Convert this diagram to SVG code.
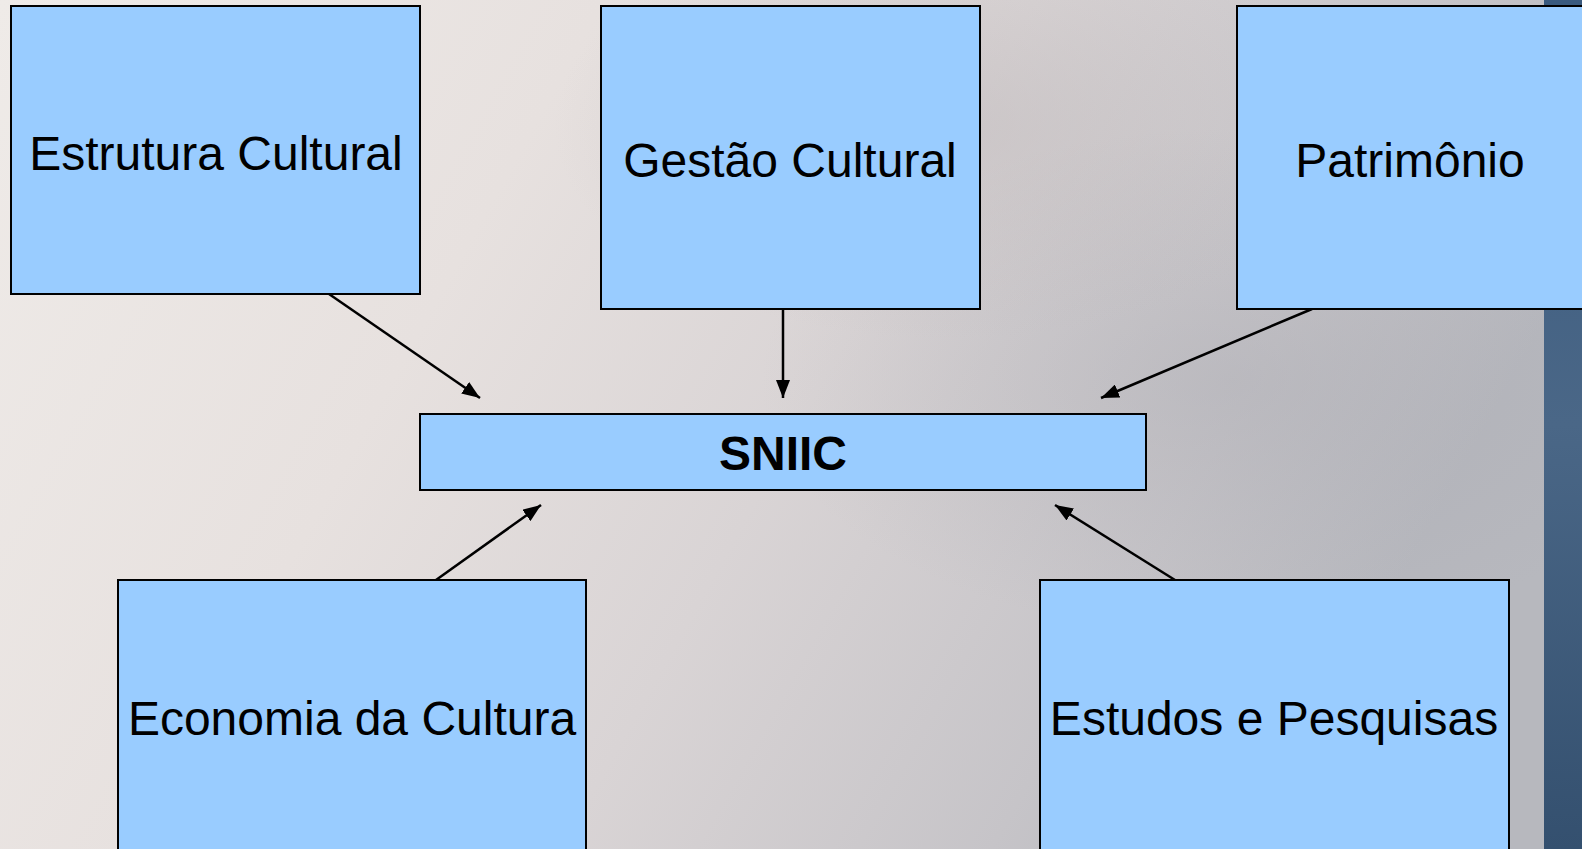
<svg xmlns="http://www.w3.org/2000/svg" width="1582" height="849" viewBox="0 0 1582 849">
<defs>
<linearGradient id="bg" x1="0" y1="0" x2="1" y2="0.3">
<stop offset="0" stop-color="#efebe8"/>
<stop offset="0.35" stop-color="#e7e1df"/>
<stop offset="0.6" stop-color="#d9d4d5"/>
<stop offset="0.85" stop-color="#c6c4c8"/>
<stop offset="1" stop-color="#b7b8be"/>
</linearGradient>
<radialGradient id="shade1" cx="0.78" cy="0.45" r="0.3">
<stop offset="0" stop-color="#a3a4ac" stop-opacity="0.35"/>
<stop offset="1" stop-color="#a3a4ac" stop-opacity="0"/>
</radialGradient>
<radialGradient id="shade2" cx="0.6" cy="0.15" r="0.25">
<stop offset="0" stop-color="#b8b2b4" stop-opacity="0.4"/>
<stop offset="1" stop-color="#b8b2b4" stop-opacity="0"/>
</radialGradient>
<linearGradient id="strip" x1="0" y1="0" x2="0" y2="1">
<stop offset="0" stop-color="#3a5a7e"/>
<stop offset="0.5" stop-color="#4a6787"/>
<stop offset="1" stop-color="#34506f"/>
</linearGradient>
<marker id="arr" viewBox="0 0 18 14" refX="18" refY="7" markerWidth="18" markerHeight="14" markerUnits="userSpaceOnUse" orient="auto">
<path d="M0,0 L18,7 L0,14 z" fill="#000"/>
</marker>
<style>
.box{fill:#99ccff;stroke:#000;stroke-width:2}
.lbl{font-family:"Liberation Sans",Arial,sans-serif;font-size:48px;fill:#000;text-anchor:middle}
.bold{font-weight:bold}
.con{stroke:#000;stroke-width:2.5;fill:none;marker-end:url(#arr)}
</style>
</defs>
<g id="background">
<rect x="0" y="0" width="1582" height="849" fill="url(#bg)"/>
<rect x="0" y="0" width="1582" height="849" fill="url(#shade1)"/>
<rect x="0" y="0" width="1582" height="849" fill="url(#shade2)"/>
<rect x="1544" y="0" width="38" height="849" fill="url(#strip)"/>
</g>
<g id="connectors">
<line class="con" x1="329" y1="294" x2="480" y2="398"/>
<line class="con" x1="783" y1="309" x2="783" y2="398"/>
<line class="con" x1="1312" y1="309" x2="1101" y2="398"/>
<line class="con" x1="436" y1="580" x2="541" y2="505"/>
<line class="con" x1="1175" y1="580" x2="1055" y2="505"/>
</g>
<g id="node-estrutura">
<rect class="box" x="11" y="6" width="409" height="288"/>
<text class="lbl" x="216" y="169.5">Estrutura Cultural</text>
</g>
<g id="node-gestao">
<rect class="box" x="601" y="6" width="379" height="303"/>
<text class="lbl" x="790" y="177">Gestão Cultural</text>
</g>
<g id="node-patrimonio">
<rect class="box" x="1237" y="6" width="350" height="303"/>
<text class="lbl" x="1410" y="177">Patrimônio</text>
</g>
<g id="node-sniic">
<rect class="box" x="420" y="414" width="726" height="76"/>
<text class="lbl bold" x="783" y="470">SNIIC</text>
</g>
<g id="node-economia">
<rect class="box" x="118" y="580" width="468" height="280"/>
<text class="lbl" x="352" y="735">Economia da Cultura</text>
</g>
<g id="node-estudos">
<rect class="box" x="1040" y="580" width="469" height="280"/>
<text class="lbl" x="1274" y="735">Estudos e Pesquisas</text>
</g>
</svg>
